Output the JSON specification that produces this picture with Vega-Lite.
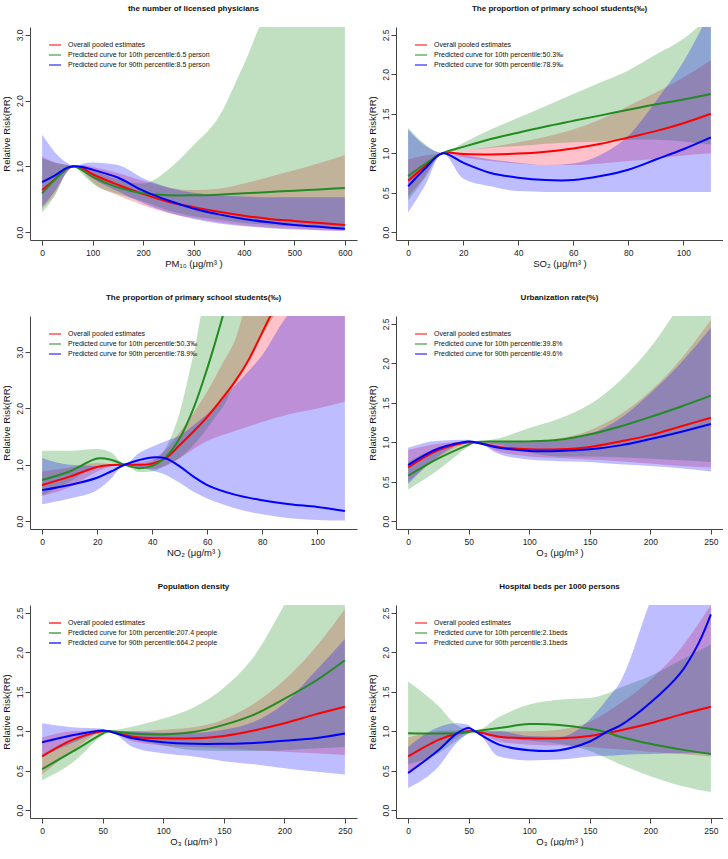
{
"$schema": "https://vega.github.io/schema/vega-lite/v6.json",
"background": "white",
"padding": {"left": 0, "top": 5, "right": 0, "bottom": 0},
"bounds": "flush",
"columns": 2,
"spacing": {"row": 76, "column": 39},
"resolve": {"scale": {"color": "independent"}, "legend": {"color": "independent"}},
"data": {"values": [
{"p":1,"s":"o","x":0,"y":0.64,"lo":0.36,"hi":1.15},
{"p":1,"s":"o","x":25,"y":0.80,"lo":0.58,"hi":1.06},
{"p":1,"s":"o","x":50,"y":0.97,"lo":0.92,"hi":1.02},
{"p":1,"s":"o","x":65,"y":1.0,"lo":1.0,"hi":1.0},
{"p":1,"s":"o","x":80,"y":0.97,"lo":0.92,"hi":1.02},
{"p":1,"s":"o","x":100,"y":0.88,"lo":0.76,"hi":0.99},
{"p":1,"s":"o","x":150,"y":0.72,"lo":0.56,"hi":0.90},
{"p":1,"s":"o","x":200,"y":0.58,"lo":0.41,"hi":0.78},
{"p":1,"s":"o","x":250,"y":0.46,"lo":0.29,"hi":0.68},
{"p":1,"s":"o","x":300,"y":0.38,"lo":0.21,"hi":0.64},
{"p":1,"s":"o","x":350,"y":0.31,"lo":0.15,"hi":0.66},
{"p":1,"s":"o","x":400,"y":0.25,"lo":0.10,"hi":0.74},
{"p":1,"s":"o","x":450,"y":0.20,"lo":0.07,"hi":0.84},
{"p":1,"s":"o","x":500,"y":0.17,"lo":0.05,"hi":0.94},
{"p":1,"s":"o","x":550,"y":0.14,"lo":0.03,"hi":1.05},
{"p":1,"s":"o","x":600,"y":0.11,"lo":0.02,"hi":1.17},
{"p":1,"s":"g","x":0,"y":0.59,"lo":0.30,"hi":1.12},
{"p":1,"s":"g","x":25,"y":0.80,"lo":0.55,"hi":1.06},
{"p":1,"s":"g","x":50,"y":0.97,"lo":0.93,"hi":1.02},
{"p":1,"s":"g","x":62,"y":1.0,"lo":1.0,"hi":1.0},
{"p":1,"s":"g","x":80,"y":0.94,"lo":0.88,"hi":1.0},
{"p":1,"s":"g","x":100,"y":0.84,"lo":0.74,"hi":0.95},
{"p":1,"s":"g","x":150,"y":0.68,"lo":0.58,"hi":0.80},
{"p":1,"s":"g","x":200,"y":0.59,"lo":0.47,"hi":0.74},
{"p":1,"s":"g","x":250,"y":0.56,"lo":0.33,"hi":0.95},
{"p":1,"s":"g","x":300,"y":0.56,"lo":0.24,"hi":1.32},
{"p":1,"s":"g","x":350,"y":0.57,"lo":0.19,"hi":1.75},
{"p":1,"s":"g","x":400,"y":0.59,"lo":0.14,"hi":2.55},
{"p":1,"s":"g","x":450,"y":0.61,"lo":0.11,"hi":3.3},
{"p":1,"s":"g","x":500,"y":0.63,"lo":0.09,"hi":3.3},
{"p":1,"s":"g","x":550,"y":0.65,"lo":0.07,"hi":3.3},
{"p":1,"s":"g","x":600,"y":0.67,"lo":0.06,"hi":3.3},
{"p":1,"s":"b","x":0,"y":0.76,"lo":0.38,"hi":1.48},
{"p":1,"s":"b","x":25,"y":0.86,"lo":0.62,"hi":1.22},
{"p":1,"s":"b","x":50,"y":0.98,"lo":0.92,"hi":1.05},
{"p":1,"s":"b","x":65,"y":1.0,"lo":1.0,"hi":1.0},
{"p":1,"s":"b","x":80,"y":0.99,"lo":0.94,"hi":1.04},
{"p":1,"s":"b","x":100,"y":0.95,"lo":0.82,"hi":1.06},
{"p":1,"s":"b","x":150,"y":0.83,"lo":0.62,"hi":1.02},
{"p":1,"s":"b","x":200,"y":0.63,"lo":0.44,"hi":0.82},
{"p":1,"s":"b","x":250,"y":0.48,"lo":0.30,"hi":0.68},
{"p":1,"s":"b","x":300,"y":0.36,"lo":0.20,"hi":0.60},
{"p":1,"s":"b","x":350,"y":0.27,"lo":0.13,"hi":0.56},
{"p":1,"s":"b","x":400,"y":0.20,"lo":0.09,"hi":0.54},
{"p":1,"s":"b","x":450,"y":0.15,"lo":0.06,"hi":0.53},
{"p":1,"s":"b","x":500,"y":0.11,"lo":0.04,"hi":0.53},
{"p":1,"s":"b","x":550,"y":0.08,"lo":0.03,"hi":0.53},
{"p":1,"s":"b","x":600,"y":0.05,"lo":0.02,"hi":0.53},
{"p":2,"s":"o","x":0,"y":0.65,"lo":0.45,"hi":0.92},
{"p":2,"s":"o","x":6,"y":0.83,"lo":0.70,"hi":0.97},
{"p":2,"s":"o","x":12.5,"y":1.0,"lo":1.0,"hi":1.0},
{"p":2,"s":"o","x":20,"y":0.99,"lo":0.95,"hi":1.03},
{"p":2,"s":"o","x":30,"y":0.985,"lo":0.90,"hi":1.08},
{"p":2,"s":"o","x":40,"y":0.995,"lo":0.87,"hi":1.14},
{"p":2,"s":"o","x":50,"y":1.02,"lo":0.85,"hi":1.21},
{"p":2,"s":"o","x":60,"y":1.06,"lo":0.85,"hi":1.30},
{"p":2,"s":"o","x":70,"y":1.12,"lo":0.87,"hi":1.43},
{"p":2,"s":"o","x":80,"y":1.20,"lo":0.90,"hi":1.60},
{"p":2,"s":"o","x":90,"y":1.28,"lo":0.93,"hi":1.77},
{"p":2,"s":"o","x":100,"y":1.38,"lo":0.97,"hi":1.96},
{"p":2,"s":"o","x":110,"y":1.50,"lo":1.0,"hi":2.18},
{"p":2,"s":"g","x":0,"y":0.71,"lo":0.40,"hi":1.32},
{"p":2,"s":"g","x":6,"y":0.86,"lo":0.68,"hi":1.12},
{"p":2,"s":"g","x":12.5,"y":1.0,"lo":1.0,"hi":1.0},
{"p":2,"s":"g","x":20,"y":1.08,"lo":1.03,"hi":1.13},
{"p":2,"s":"g","x":30,"y":1.18,"lo":1.07,"hi":1.30},
{"p":2,"s":"g","x":40,"y":1.26,"lo":1.09,"hi":1.45},
{"p":2,"s":"g","x":50,"y":1.34,"lo":1.12,"hi":1.60},
{"p":2,"s":"g","x":60,"y":1.41,"lo":1.14,"hi":1.75},
{"p":2,"s":"g","x":70,"y":1.48,"lo":1.15,"hi":1.90},
{"p":2,"s":"g","x":80,"y":1.55,"lo":1.17,"hi":2.05},
{"p":2,"s":"g","x":90,"y":1.62,"lo":1.17,"hi":2.25},
{"p":2,"s":"g","x":100,"y":1.68,"lo":1.15,"hi":2.45},
{"p":2,"s":"g","x":110,"y":1.75,"lo":1.11,"hi":2.75},
{"p":2,"s":"b","x":0,"y":0.58,"lo":0.25,"hi":1.30},
{"p":2,"s":"b","x":6,"y":0.80,"lo":0.58,"hi":1.10},
{"p":2,"s":"b","x":12.5,"y":1.0,"lo":1.0,"hi":1.0},
{"p":2,"s":"b","x":20,"y":0.88,"lo":0.68,"hi":0.98},
{"p":2,"s":"b","x":30,"y":0.75,"lo":0.58,"hi":0.92},
{"p":2,"s":"b","x":40,"y":0.69,"lo":0.52,"hi":0.88},
{"p":2,"s":"b","x":50,"y":0.66,"lo":0.51,"hi":0.85},
{"p":2,"s":"b","x":60,"y":0.66,"lo":0.51,"hi":0.87},
{"p":2,"s":"b","x":70,"y":0.71,"lo":0.51,"hi":0.98},
{"p":2,"s":"b","x":80,"y":0.79,"lo":0.51,"hi":1.22},
{"p":2,"s":"b","x":90,"y":0.92,"lo":0.51,"hi":1.66},
{"p":2,"s":"b","x":100,"y":1.05,"lo":0.51,"hi":2.16},
{"p":2,"s":"b","x":110,"y":1.20,"lo":0.51,"hi":2.82},
{"p":3,"s":"o","x":0,"y":0.64,"lo":0.45,"hi":0.88},
{"p":3,"s":"o","x":10,"y":0.79,"lo":0.60,"hi":0.95},
{"p":3,"s":"o","x":20,"y":0.96,"lo":0.88,"hi":1.03},
{"p":3,"s":"o","x":25,"y":0.995,"lo":0.97,"hi":1.01},
{"p":3,"s":"o","x":30,"y":1.0,"lo":1.0,"hi":1.0},
{"p":3,"s":"o","x":35,"y":1.0,"lo":0.95,"hi":1.04},
{"p":3,"s":"o","x":40,"y":1.02,"lo":0.93,"hi":1.10},
{"p":3,"s":"o","x":45,"y":1.12,"lo":0.98,"hi":1.27},
{"p":3,"s":"o","x":50,"y":1.35,"lo":1.12,"hi":1.58},
{"p":3,"s":"o","x":55,"y":1.59,"lo":1.28,"hi":1.92},
{"p":3,"s":"o","x":60,"y":1.85,"lo":1.42,"hi":2.30},
{"p":3,"s":"o","x":65,"y":2.15,"lo":1.52,"hi":2.75},
{"p":3,"s":"o","x":70,"y":2.47,"lo":1.60,"hi":3.2},
{"p":3,"s":"o","x":75,"y":2.86,"lo":1.68,"hi":3.9},
{"p":3,"s":"o","x":80,"y":3.35,"lo":1.76,"hi":4.0},
{"p":3,"s":"o","x":84,"y":3.75,"lo":1.82,"hi":4.0},
{"p":3,"s":"o","x":90,"y":null,"lo":1.90,"hi":4.0},
{"p":3,"s":"o","x":100,"y":null,"lo":2.0,"hi":4.0},
{"p":3,"s":"o","x":110,"y":null,"lo":2.12,"hi":4.0},
{"p":3,"s":"g","x":0,"y":0.73,"lo":0.45,"hi":1.25},
{"p":3,"s":"g","x":10,"y":0.88,"lo":0.70,"hi":1.25},
{"p":3,"s":"g","x":20,"y":1.11,"lo":0.96,"hi":1.28},
{"p":3,"s":"g","x":25,"y":1.09,"lo":0.98,"hi":1.22},
{"p":3,"s":"g","x":30,"y":1.0,"lo":1.0,"hi":1.0},
{"p":3,"s":"g","x":35,"y":0.94,"lo":0.87,"hi":0.99},
{"p":3,"s":"g","x":40,"y":0.98,"lo":0.88,"hi":1.06},
{"p":3,"s":"g","x":45,"y":1.14,"lo":1.0,"hi":1.30},
{"p":3,"s":"g","x":50,"y":1.47,"lo":1.12,"hi":1.93},
{"p":3,"s":"g","x":55,"y":2.0,"lo":1.35,"hi":2.96},
{"p":3,"s":"g","x":60,"y":2.71,"lo":1.65,"hi":4.0},
{"p":3,"s":"g","x":63,"y":3.19,"lo":1.85,"hi":4.0},
{"p":3,"s":"g","x":66,"y":3.70,"lo":2.05,"hi":4.0},
{"p":3,"s":"g","x":70,"y":null,"lo":2.45,"hi":4.0},
{"p":3,"s":"g","x":75,"y":null,"lo":2.9,"hi":4.0},
{"p":3,"s":"g","x":80,"y":null,"lo":3.3,"hi":4.0},
{"p":3,"s":"g","x":85,"y":null,"lo":3.7,"hi":4.0},
{"p":3,"s":"b","x":0,"y":0.55,"lo":0.30,"hi":1.12},
{"p":3,"s":"b","x":10,"y":0.64,"lo":0.40,"hi":1.0},
{"p":3,"s":"b","x":20,"y":0.77,"lo":0.55,"hi":0.98},
{"p":3,"s":"b","x":25,"y":0.88,"lo":0.75,"hi":0.99},
{"p":3,"s":"b","x":30,"y":1.0,"lo":1.0,"hi":1.0},
{"p":3,"s":"b","x":35,"y":1.08,"lo":0.95,"hi":1.20},
{"p":3,"s":"b","x":40,"y":1.13,"lo":0.90,"hi":1.32},
{"p":3,"s":"b","x":45,"y":1.11,"lo":0.82,"hi":1.42},
{"p":3,"s":"b","x":50,"y":0.97,"lo":0.68,"hi":1.52},
{"p":3,"s":"b","x":55,"y":0.79,"lo":0.52,"hi":1.70},
{"p":3,"s":"b","x":60,"y":0.64,"lo":0.40,"hi":1.90},
{"p":3,"s":"b","x":70,"y":0.47,"lo":0.23,"hi":2.40},
{"p":3,"s":"b","x":80,"y":0.37,"lo":0.12,"hi":2.95},
{"p":3,"s":"b","x":90,"y":0.30,"lo":0.05,"hi":3.70},
{"p":3,"s":"b","x":100,"y":0.25,"lo":0.02,"hi":4.0},
{"p":3,"s":"b","x":110,"y":0.18,"lo":0.01,"hi":4.0},
{"p":4,"s":"o","x":0,"y":0.68,"lo":0.50,"hi":0.90},
{"p":4,"s":"o","x":25,"y":0.90,"lo":0.80,"hi":0.98},
{"p":4,"s":"o","x":50,"y":1.0,"lo":0.99,"hi":1.01},
{"p":4,"s":"o","x":55,"y":1.0,"lo":1.0,"hi":1.0},
{"p":4,"s":"o","x":75,"y":0.94,"lo":0.88,"hi":1.0},
{"p":4,"s":"o","x":100,"y":0.91,"lo":0.82,"hi":1.02},
{"p":4,"s":"o","x":125,"y":0.91,"lo":0.80,"hi":1.05},
{"p":4,"s":"o","x":150,"y":0.94,"lo":0.78,"hi":1.15},
{"p":4,"s":"o","x":175,"y":1.01,"lo":0.76,"hi":1.35},
{"p":4,"s":"o","x":200,"y":1.09,"lo":0.73,"hi":1.65},
{"p":4,"s":"o","x":225,"y":1.20,"lo":0.70,"hi":2.05},
{"p":4,"s":"o","x":250,"y":1.31,"lo":0.68,"hi":2.55},
{"p":4,"s":"g","x":0,"y":0.575,"lo":0.40,"hi":0.75},
{"p":4,"s":"g","x":25,"y":0.795,"lo":0.65,"hi":0.93},
{"p":4,"s":"g","x":50,"y":0.97,"lo":0.95,"hi":0.99},
{"p":4,"s":"g","x":55,"y":1.0,"lo":1.0,"hi":1.0},
{"p":4,"s":"g","x":75,"y":1.01,"lo":0.97,"hi":1.05},
{"p":4,"s":"g","x":100,"y":1.01,"lo":0.87,"hi":1.18},
{"p":4,"s":"g","x":125,"y":1.03,"lo":0.82,"hi":1.30},
{"p":4,"s":"g","x":150,"y":1.10,"lo":0.82,"hi":1.48},
{"p":4,"s":"g","x":175,"y":1.20,"lo":0.81,"hi":1.78},
{"p":4,"s":"g","x":200,"y":1.32,"lo":0.79,"hi":2.2},
{"p":4,"s":"g","x":225,"y":1.45,"lo":0.77,"hi":2.75},
{"p":4,"s":"g","x":250,"y":1.59,"lo":0.75,"hi":3.3},
{"p":4,"s":"b","x":0,"y":0.71,"lo":0.47,"hi":0.93},
{"p":4,"s":"b","x":25,"y":0.92,"lo":0.82,"hi":1.02},
{"p":4,"s":"b","x":50,"y":1.01,"lo":1.0,"hi":1.03},
{"p":4,"s":"b","x":55,"y":1.0,"lo":1.0,"hi":1.0},
{"p":4,"s":"b","x":75,"y":0.93,"lo":0.85,"hi":1.0},
{"p":4,"s":"b","x":100,"y":0.89,"lo":0.78,"hi":1.0},
{"p":4,"s":"b","x":125,"y":0.89,"lo":0.76,"hi":1.02},
{"p":4,"s":"b","x":150,"y":0.91,"lo":0.75,"hi":1.10},
{"p":4,"s":"b","x":175,"y":0.96,"lo":0.72,"hi":1.30},
{"p":4,"s":"b","x":200,"y":1.04,"lo":0.70,"hi":1.62},
{"p":4,"s":"b","x":225,"y":1.13,"lo":0.67,"hi":2.0},
{"p":4,"s":"b","x":250,"y":1.23,"lo":0.63,"hi":2.45},
{"p":5,"s":"o","x":0,"y":0.68,"lo":0.45,"hi":0.92},
{"p":5,"s":"o","x":25,"y":0.89,"lo":0.75,"hi":1.0},
{"p":5,"s":"o","x":50,"y":1.0,"lo":0.99,"hi":1.01},
{"p":5,"s":"o","x":55,"y":1.0,"lo":1.0,"hi":1.0},
{"p":5,"s":"o","x":75,"y":0.93,"lo":0.87,"hi":1.0},
{"p":5,"s":"o","x":100,"y":0.91,"lo":0.82,"hi":1.02},
{"p":5,"s":"o","x":125,"y":0.91,"lo":0.80,"hi":1.05},
{"p":5,"s":"o","x":150,"y":0.94,"lo":0.78,"hi":1.15},
{"p":5,"s":"o","x":175,"y":1.01,"lo":0.76,"hi":1.35},
{"p":5,"s":"o","x":200,"y":1.10,"lo":0.74,"hi":1.65},
{"p":5,"s":"o","x":225,"y":1.21,"lo":0.72,"hi":2.05},
{"p":5,"s":"o","x":250,"y":1.31,"lo":0.70,"hi":2.55},
{"p":5,"s":"g","x":0,"y":0.52,"lo":0.38,"hi":0.70},
{"p":5,"s":"g","x":25,"y":0.74,"lo":0.60,"hi":0.90},
{"p":5,"s":"g","x":50,"y":0.97,"lo":0.95,"hi":0.99},
{"p":5,"s":"g","x":55,"y":1.0,"lo":1.0,"hi":1.0},
{"p":5,"s":"g","x":75,"y":0.97,"lo":0.90,"hi":1.06},
{"p":5,"s":"g","x":100,"y":0.96,"lo":0.82,"hi":1.16},
{"p":5,"s":"g","x":125,"y":0.99,"lo":0.76,"hi":1.30},
{"p":5,"s":"g","x":150,"y":1.08,"lo":0.75,"hi":1.55},
{"p":5,"s":"g","x":175,"y":1.21,"lo":0.75,"hi":1.95},
{"p":5,"s":"g","x":200,"y":1.41,"lo":0.76,"hi":2.6},
{"p":5,"s":"g","x":225,"y":1.63,"lo":0.78,"hi":3.3},
{"p":5,"s":"g","x":250,"y":1.90,"lo":0.80,"hi":3.3},
{"p":5,"s":"b","x":0,"y":0.86,"lo":0.68,"hi":1.10},
{"p":5,"s":"b","x":25,"y":0.95,"lo":0.85,"hi":1.05},
{"p":5,"s":"b","x":50,"y":1.01,"lo":0.99,"hi":1.03},
{"p":5,"s":"b","x":55,"y":1.0,"lo":1.0,"hi":1.0},
{"p":5,"s":"b","x":75,"y":0.91,"lo":0.80,"hi":1.0},
{"p":5,"s":"b","x":100,"y":0.86,"lo":0.72,"hi":0.98},
{"p":5,"s":"b","x":125,"y":0.84,"lo":0.68,"hi":0.98},
{"p":5,"s":"b","x":150,"y":0.84,"lo":0.62,"hi":1.02},
{"p":5,"s":"b","x":175,"y":0.85,"lo":0.58,"hi":1.12},
{"p":5,"s":"b","x":200,"y":0.88,"lo":0.53,"hi":1.35},
{"p":5,"s":"b","x":225,"y":0.91,"lo":0.49,"hi":1.75},
{"p":5,"s":"b","x":250,"y":0.97,"lo":0.45,"hi":2.17},
{"p":6,"s":"o","x":0,"y":0.68,"lo":0.45,"hi":0.92},
{"p":6,"s":"o","x":25,"y":0.89,"lo":0.76,"hi":1.0},
{"p":6,"s":"o","x":40,"y":0.97,"lo":0.92,"hi":1.01},
{"p":6,"s":"o","x":50,"y":1.0,"lo":0.99,"hi":1.01},
{"p":6,"s":"o","x":55,"y":1.0,"lo":1.0,"hi":1.0},
{"p":6,"s":"o","x":75,"y":0.93,"lo":0.87,"hi":1.0},
{"p":6,"s":"o","x":100,"y":0.91,"lo":0.83,"hi":1.0},
{"p":6,"s":"o","x":125,"y":0.91,"lo":0.82,"hi":1.02},
{"p":6,"s":"o","x":150,"y":0.94,"lo":0.80,"hi":1.12},
{"p":6,"s":"o","x":165,"y":0.98,"lo":0.78,"hi":1.25},
{"p":6,"s":"o","x":175,"y":1.01,"lo":0.77,"hi":1.35},
{"p":6,"s":"o","x":200,"y":1.10,"lo":0.74,"hi":1.65},
{"p":6,"s":"o","x":225,"y":1.21,"lo":0.71,"hi":2.05},
{"p":6,"s":"o","x":250,"y":1.31,"lo":0.68,"hi":2.6},
{"p":6,"s":"g","x":0,"y":0.975,"lo":0.58,"hi":1.63},
{"p":6,"s":"g","x":25,"y":0.97,"lo":0.72,"hi":1.32},
{"p":6,"s":"g","x":40,"y":0.975,"lo":0.88,"hi":1.08},
{"p":6,"s":"g","x":50,"y":0.99,"lo":0.97,"hi":1.02},
{"p":6,"s":"g","x":55,"y":1.0,"lo":1.0,"hi":1.0},
{"p":6,"s":"g","x":75,"y":1.04,"lo":0.92,"hi":1.18},
{"p":6,"s":"g","x":100,"y":1.09,"lo":0.88,"hi":1.34},
{"p":6,"s":"g","x":125,"y":1.08,"lo":0.84,"hi":1.40},
{"p":6,"s":"g","x":150,"y":1.03,"lo":0.75,"hi":1.42},
{"p":6,"s":"g","x":165,"y":0.98,"lo":0.65,"hi":1.48},
{"p":6,"s":"g","x":175,"y":0.93,"lo":0.58,"hi":1.55},
{"p":6,"s":"g","x":200,"y":0.84,"lo":0.43,"hi":1.70},
{"p":6,"s":"g","x":225,"y":0.77,"lo":0.31,"hi":1.90},
{"p":6,"s":"g","x":250,"y":0.71,"lo":0.23,"hi":2.10},
{"p":6,"s":"b","x":0,"y":0.47,"lo":0.28,"hi":0.80},
{"p":6,"s":"b","x":25,"y":0.76,"lo":0.55,"hi":1.05},
{"p":6,"s":"b","x":40,"y":0.97,"lo":0.85,"hi":1.10},
{"p":6,"s":"b","x":50,"y":1.04,"lo":0.97,"hi":1.08},
{"p":6,"s":"b","x":55,"y":1.0,"lo":1.0,"hi":1.0},
{"p":6,"s":"b","x":75,"y":0.83,"lo":0.68,"hi":1.0},
{"p":6,"s":"b","x":100,"y":0.76,"lo":0.63,"hi":0.94},
{"p":6,"s":"b","x":125,"y":0.76,"lo":0.64,"hi":0.93},
{"p":6,"s":"b","x":150,"y":0.87,"lo":0.68,"hi":1.15},
{"p":6,"s":"b","x":165,"y":1.0,"lo":0.69,"hi":1.42},
{"p":6,"s":"b","x":175,"y":1.07,"lo":0.70,"hi":1.62},
{"p":6,"s":"b","x":200,"y":1.36,"lo":0.71,"hi":2.65},
{"p":6,"s":"b","x":225,"y":1.74,"lo":0.72,"hi":3.6},
{"p":6,"s":"b","x":240,"y":2.12,"lo":0.72,"hi":3.6},
{"p":6,"s":"b","x":250,"y":2.48,"lo":0.72,"hi":3.6}
]},
"concat": [
{
 "width": 327, "height": 213,
 "title": "the number of licensed physicians",
 "transform": [{"filter": "datum.p==1"}],
 "encoding": {"x": {"field": "x", "type": "quantitative", "scale": {"domain": [-24, 624], "nice": false, "zero": false}, "axis": {"values": [0,100,200,300,400,500,600], "title": "PM₁₀ (μg/m³ )"}}},
 "layer": [
  {"transform": [{"filter": "datum.s=='o'"}], "mark": {"type": "area", "interpolate": "monotone", "clip": true, "color": "#FFB6C1", "opacity": 0.85},
   "encoding": {"y": {"field": "lo", "type": "quantitative", "title": "Relative Risk(RR)", "scale": {"domain": [-0.12, 3.12], "nice": false, "zero": false}, "axis": {"values": [0,0.5,1,1.5,2,2.5,3], "format": ".1f"}}, "y2": {"field": "hi"}}},
  {"transform": [{"filter": "datum.s=='g'"}], "mark": {"type": "area", "interpolate": "monotone", "clip": true, "color": "#228B22", "opacity": 0.28},
   "encoding": {"y": {"field": "lo", "type": "quantitative", "title": "Relative Risk(RR)", "scale": {"domain": [-0.12, 3.12], "nice": false, "zero": false}}, "y2": {"field": "hi"}}},
  {"transform": [{"filter": "datum.s=='b'"}], "mark": {"type": "area", "interpolate": "monotone", "clip": true, "color": "#0000FF", "opacity": 0.26},
   "encoding": {"y": {"field": "lo", "type": "quantitative", "title": "Relative Risk(RR)", "scale": {"domain": [-0.12, 3.12], "nice": false, "zero": false}}, "y2": {"field": "hi"}}},
  {"transform": [{"aggregate": [{"op": "count", "as": "n"}]}], "mark": {"type": "rule", "color": "#111", "strokeWidth": 1}, "encoding": {"y": {"datum": 1}}},
  {"mark": {"type": "line", "interpolate": "catmull-rom", "clip": true, "strokeWidth": 2},
   "encoding": {"y": {"field": "y", "type": "quantitative", "title": "Relative Risk(RR)", "scale": {"domain": [-0.12, 3.12], "nice": false, "zero": false}},
    "color": {"field": "s", "type": "nominal", "scale": {"domain": ["o","g","b"], "range": ["#FF0000","#228B22","#0000FF"]},
     "legend": {"title": null, "labelExpr": "datum.value=='o' ? 'Overall pooled estimates' : datum.value=='g' ? 'Predicted curve for 10th percentile:6.5 person' : 'Predicted curve for 90th percentile:8.5 person'"}}}}
 ]
},
{
 "width": 327, "height": 213,
 "title": "The proportion of primary school students(‰)",
 "transform": [{"filter": "datum.p==2"}],
 "encoding": {"x": {"field": "x", "type": "quantitative", "scale": {"domain": [-4.4, 114.4], "nice": false, "zero": false}, "axis": {"values": [0,20,40,60,80,100], "title": "SO₂ (μg/m³ )"}}},
 "layer": [
  {"transform": [{"filter": "datum.s=='o'"}], "mark": {"type": "area", "interpolate": "monotone", "clip": true, "color": "#FFB6C1", "opacity": 0.85},
   "encoding": {"y": {"field": "lo", "type": "quantitative", "title": "Relative Risk(RR)", "scale": {"domain": [-0.1, 2.6], "nice": false, "zero": false}, "axis": {"values": [0,0.5,1,1.5,2,2.5], "format": ".1f"}}, "y2": {"field": "hi"}}},
  {"transform": [{"filter": "datum.s=='g'"}], "mark": {"type": "area", "interpolate": "monotone", "clip": true, "color": "#228B22", "opacity": 0.28},
   "encoding": {"y": {"field": "lo", "type": "quantitative", "title": "Relative Risk(RR)", "scale": {"domain": [-0.1, 2.6], "nice": false, "zero": false}}, "y2": {"field": "hi"}}},
  {"transform": [{"filter": "datum.s=='b'"}], "mark": {"type": "area", "interpolate": "monotone", "clip": true, "color": "#0000FF", "opacity": 0.26},
   "encoding": {"y": {"field": "lo", "type": "quantitative", "title": "Relative Risk(RR)", "scale": {"domain": [-0.1, 2.6], "nice": false, "zero": false}}, "y2": {"field": "hi"}}},
  {"transform": [{"aggregate": [{"op": "count", "as": "n"}]}], "mark": {"type": "rule", "color": "#111", "strokeWidth": 1}, "encoding": {"y": {"datum": 1}}},
  {"mark": {"type": "line", "interpolate": "catmull-rom", "clip": true, "strokeWidth": 2},
   "encoding": {"y": {"field": "y", "type": "quantitative", "title": "Relative Risk(RR)", "scale": {"domain": [-0.1, 2.6], "nice": false, "zero": false}},
    "color": {"field": "s", "type": "nominal", "scale": {"domain": ["o","g","b"], "range": ["#FF0000","#228B22","#0000FF"]},
     "legend": {"title": null, "labelExpr": "datum.value=='o' ? 'Overall pooled estimates' : datum.value=='g' ? 'Predicted curve for 10th percentile:50.3‰' : 'Predicted curve for 90th percentile:78.9‰'"}}}}
 ]
},
{
 "width": 327, "height": 213,
 "title": "The proportion of primary school students(‰)",
 "transform": [{"filter": "datum.p==3"}],
 "encoding": {"x": {"field": "x", "type": "quantitative", "scale": {"domain": [-4.4, 114.4], "nice": false, "zero": false}, "axis": {"values": [0,20,40,60,80,100], "title": "NO₂ (μg/m³ )"}}},
 "layer": [
  {"transform": [{"filter": "datum.s=='o'"}], "mark": {"type": "area", "interpolate": "monotone", "clip": true, "color": "#FFB6C1", "opacity": 0.85},
   "encoding": {"y": {"field": "lo", "type": "quantitative", "title": "Relative Risk(RR)", "scale": {"domain": [-0.14, 3.64], "nice": false, "zero": false}, "axis": {"values": [0,0.5,1,1.5,2,2.5,3,3.5], "format": ".1f"}}, "y2": {"field": "hi"}}},
  {"transform": [{"filter": "datum.s=='g'"}], "mark": {"type": "area", "interpolate": "monotone", "clip": true, "color": "#228B22", "opacity": 0.28},
   "encoding": {"y": {"field": "lo", "type": "quantitative", "title": "Relative Risk(RR)", "scale": {"domain": [-0.14, 3.64], "nice": false, "zero": false}}, "y2": {"field": "hi"}}},
  {"transform": [{"filter": "datum.s=='b'"}], "mark": {"type": "area", "interpolate": "monotone", "clip": true, "color": "#0000FF", "opacity": 0.26},
   "encoding": {"y": {"field": "lo", "type": "quantitative", "title": "Relative Risk(RR)", "scale": {"domain": [-0.14, 3.64], "nice": false, "zero": false}}, "y2": {"field": "hi"}}},
  {"transform": [{"aggregate": [{"op": "count", "as": "n"}]}], "mark": {"type": "rule", "color": "#111", "strokeWidth": 1}, "encoding": {"y": {"datum": 1}}},
  {"mark": {"type": "line", "interpolate": "catmull-rom", "clip": true, "strokeWidth": 2},
   "encoding": {"y": {"field": "y", "type": "quantitative", "title": "Relative Risk(RR)", "scale": {"domain": [-0.14, 3.64], "nice": false, "zero": false}},
    "color": {"field": "s", "type": "nominal", "scale": {"domain": ["o","g","b"], "range": ["#FF0000","#228B22","#0000FF"]},
     "legend": {"title": null, "labelExpr": "datum.value=='o' ? 'Overall pooled estimates' : datum.value=='g' ? 'Predicted curve for 10th percentile:50.3‰' : 'Predicted curve for 90th percentile:78.9‰'"}}}}
 ]
},
{
 "width": 327, "height": 213,
 "title": "Urbanization rate(%)",
 "transform": [{"filter": "datum.p==4"}],
 "encoding": {"x": {"field": "x", "type": "quantitative", "scale": {"domain": [-10, 260], "nice": false, "zero": false}, "axis": {"values": [0,50,100,150,200,250], "title": "O₃ (μg/m³ )"}}},
 "layer": [
  {"transform": [{"filter": "datum.s=='o'"}], "mark": {"type": "area", "interpolate": "monotone", "clip": true, "color": "#FFB6C1", "opacity": 0.85},
   "encoding": {"y": {"field": "lo", "type": "quantitative", "title": "Relative Risk(RR)", "scale": {"domain": [-0.1, 2.6], "nice": false, "zero": false}, "axis": {"values": [0,0.5,1,1.5,2,2.5], "format": ".1f"}}, "y2": {"field": "hi"}}},
  {"transform": [{"filter": "datum.s=='g'"}], "mark": {"type": "area", "interpolate": "monotone", "clip": true, "color": "#228B22", "opacity": 0.28},
   "encoding": {"y": {"field": "lo", "type": "quantitative", "title": "Relative Risk(RR)", "scale": {"domain": [-0.1, 2.6], "nice": false, "zero": false}}, "y2": {"field": "hi"}}},
  {"transform": [{"filter": "datum.s=='b'"}], "mark": {"type": "area", "interpolate": "monotone", "clip": true, "color": "#0000FF", "opacity": 0.26},
   "encoding": {"y": {"field": "lo", "type": "quantitative", "title": "Relative Risk(RR)", "scale": {"domain": [-0.1, 2.6], "nice": false, "zero": false}}, "y2": {"field": "hi"}}},
  {"transform": [{"aggregate": [{"op": "count", "as": "n"}]}], "mark": {"type": "rule", "color": "#111", "strokeWidth": 1}, "encoding": {"y": {"datum": 1}}},
  {"mark": {"type": "line", "interpolate": "catmull-rom", "clip": true, "strokeWidth": 2},
   "encoding": {"y": {"field": "y", "type": "quantitative", "title": "Relative Risk(RR)", "scale": {"domain": [-0.1, 2.6], "nice": false, "zero": false}},
    "color": {"field": "s", "type": "nominal", "scale": {"domain": ["o","g","b"], "range": ["#FF0000","#228B22","#0000FF"]},
     "legend": {"title": null, "labelExpr": "datum.value=='o' ? 'Overall pooled estimates' : datum.value=='g' ? 'Predicted curve for 10th percentile:39.8%' : 'Predicted curve for 90th percentile:49.6%'"}}}}
 ]
},
{
 "width": 327, "height": 213,
 "title": "Population density",
 "transform": [{"filter": "datum.p==5"}],
 "encoding": {"x": {"field": "x", "type": "quantitative", "scale": {"domain": [-10, 260], "nice": false, "zero": false}, "axis": {"values": [0,50,100,150,200,250], "title": "O₃ (μg/m³ )"}}},
 "layer": [
  {"transform": [{"filter": "datum.s=='o'"}], "mark": {"type": "area", "interpolate": "monotone", "clip": true, "color": "#FFB6C1", "opacity": 0.85},
   "encoding": {"y": {"field": "lo", "type": "quantitative", "title": "Relative Risk(RR)", "scale": {"domain": [-0.1, 2.6], "nice": false, "zero": false}, "axis": {"values": [0,0.5,1,1.5,2,2.5], "format": ".1f"}}, "y2": {"field": "hi"}}},
  {"transform": [{"filter": "datum.s=='g'"}], "mark": {"type": "area", "interpolate": "monotone", "clip": true, "color": "#228B22", "opacity": 0.28},
   "encoding": {"y": {"field": "lo", "type": "quantitative", "title": "Relative Risk(RR)", "scale": {"domain": [-0.1, 2.6], "nice": false, "zero": false}}, "y2": {"field": "hi"}}},
  {"transform": [{"filter": "datum.s=='b'"}], "mark": {"type": "area", "interpolate": "monotone", "clip": true, "color": "#0000FF", "opacity": 0.26},
   "encoding": {"y": {"field": "lo", "type": "quantitative", "title": "Relative Risk(RR)", "scale": {"domain": [-0.1, 2.6], "nice": false, "zero": false}}, "y2": {"field": "hi"}}},
  {"transform": [{"aggregate": [{"op": "count", "as": "n"}]}], "mark": {"type": "rule", "color": "#111", "strokeWidth": 1}, "encoding": {"y": {"datum": 1}}},
  {"mark": {"type": "line", "interpolate": "catmull-rom", "clip": true, "strokeWidth": 2},
   "encoding": {"y": {"field": "y", "type": "quantitative", "title": "Relative Risk(RR)", "scale": {"domain": [-0.1, 2.6], "nice": false, "zero": false}},
    "color": {"field": "s", "type": "nominal", "scale": {"domain": ["o","g","b"], "range": ["#FF0000","#228B22","#0000FF"]},
     "legend": {"title": null, "labelExpr": "datum.value=='o' ? 'Overall pooled estimates' : datum.value=='g' ? 'Predicted curve for 10th percentile:207.4 people' : 'Predicted curve for 90th percentile:664.2 people'"}}}}
 ]
},
{
 "width": 327, "height": 213,
 "title": "Hospital beds per 1000 persons",
 "transform": [{"filter": "datum.p==6"}],
 "encoding": {"x": {"field": "x", "type": "quantitative", "scale": {"domain": [-10, 260], "nice": false, "zero": false}, "axis": {"values": [0,50,100,150,200,250], "title": "O₃ (μg/m³ )"}}},
 "layer": [
  {"transform": [{"filter": "datum.s=='o'"}], "mark": {"type": "area", "interpolate": "monotone", "clip": true, "color": "#FFB6C1", "opacity": 0.85},
   "encoding": {"y": {"field": "lo", "type": "quantitative", "title": "Relative Risk(RR)", "scale": {"domain": [-0.1, 2.6], "nice": false, "zero": false}, "axis": {"values": [0,0.5,1,1.5,2,2.5], "format": ".1f"}}, "y2": {"field": "hi"}}},
  {"transform": [{"filter": "datum.s=='g'"}], "mark": {"type": "area", "interpolate": "monotone", "clip": true, "color": "#228B22", "opacity": 0.28},
   "encoding": {"y": {"field": "lo", "type": "quantitative", "title": "Relative Risk(RR)", "scale": {"domain": [-0.1, 2.6], "nice": false, "zero": false}}, "y2": {"field": "hi"}}},
  {"transform": [{"filter": "datum.s=='b'"}], "mark": {"type": "area", "interpolate": "monotone", "clip": true, "color": "#0000FF", "opacity": 0.26},
   "encoding": {"y": {"field": "lo", "type": "quantitative", "title": "Relative Risk(RR)", "scale": {"domain": [-0.1, 2.6], "nice": false, "zero": false}}, "y2": {"field": "hi"}}},
  {"transform": [{"aggregate": [{"op": "count", "as": "n"}]}], "mark": {"type": "rule", "color": "#111", "strokeWidth": 1}, "encoding": {"y": {"datum": 1}}},
  {"mark": {"type": "line", "interpolate": "catmull-rom", "clip": true, "strokeWidth": 2},
   "encoding": {"y": {"field": "y", "type": "quantitative", "title": "Relative Risk(RR)", "scale": {"domain": [-0.1, 2.6], "nice": false, "zero": false}},
    "color": {"field": "s", "type": "nominal", "scale": {"domain": ["o","g","b"], "range": ["#FF0000","#228B22","#0000FF"]},
     "legend": {"title": null, "labelExpr": "datum.value=='o' ? 'Overall pooled estimates' : datum.value=='g' ? 'Predicted curve for 10th percentile:2.1beds' : 'Predicted curve for 90th percentile:3.1beds'"}}}}
 ]
}
],
"config": {
 "font": "Liberation Sans",
 "view": {"stroke": null},
 "axis": {"grid": false, "domainColor": "#444", "tickColor": "#444", "labelColor": "#222", "titleColor": "#111", "labelFontSize": 8.5, "titleFontSize": 9.5, "titleFontWeight": "normal", "tickSize": 5, "labelFlush": false, "labelOverlap": false, "labelBound": false},
 "axisX": {"labelPadding": 3, "titlePadding": 2},
 "axisY": {"labelAngle": -90, "labelAlign": "center", "labelBaseline": "middle", "labelPadding": 6, "titlePadding": 4},
 "title": {"fontSize": 8, "fontWeight": "bold", "color": "#111", "offset": 14, "frame": "group", "anchor": "middle"},
 "legend": {"orient": "none", "legendX": 18, "legendY": 13, "symbolType": "stroke", "symbolSize": 144, "symbolStrokeWidth": 1.2, "labelFontSize": 7, "labelColor": "#111", "labelOffset": 6, "clipHeight": 10, "rowPadding": 0, "padding": 0, "labelLimit": 400}
}
}
